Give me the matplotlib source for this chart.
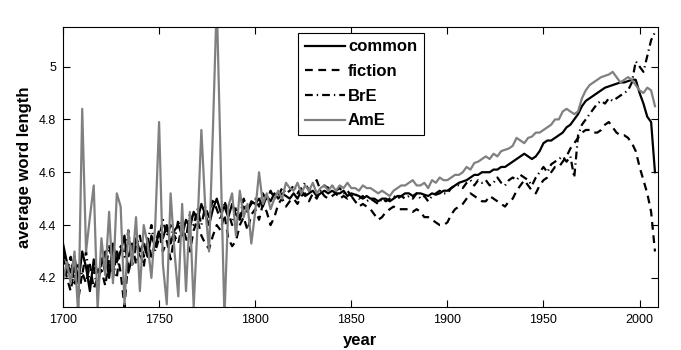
import numpy as np
import matplotlib
matplotlib.use("Agg")
import matplotlib.pyplot as plt

plt.rcParams['font.family'] = ['Liberation Sans', 'DejaVu Sans']

# yearly samples, every second year
years = np.arange(1700, 2010, 2)

common = [
    4.33, 4.26, 4.22, 4.28, 4.18, 4.30, 4.24, 4.15, 4.27, 4.22,   # 1700
    4.25, 4.30, 4.20, 4.33, 4.26, 4.30, 4.36, 4.22, 4.28, 4.35,   # 1720
    4.30, 4.33, 4.28, 4.36, 4.32, 4.37, 4.35, 4.40, 4.33, 4.38,   # 1740
    4.40, 4.36, 4.42, 4.39, 4.45, 4.42, 4.48, 4.44, 4.40, 4.46,   # 1760
    4.50, 4.45, 4.47, 4.43, 4.48, 4.44, 4.42, 4.47, 4.45, 4.49,   # 1780
    4.48, 4.50, 4.47, 4.51, 4.49, 4.52, 4.50, 4.52, 4.51, 4.50,   # 1800
    4.52, 4.50, 4.53, 4.51, 4.52, 4.53, 4.51, 4.52, 4.53, 4.52,   # 1820
    4.53, 4.52, 4.52, 4.53, 4.51, 4.52, 4.515, 4.51, 4.50, 4.51,  # 1840
    4.50, 4.50, 4.49, 4.50, 4.50, 4.49, 4.50, 4.51, 4.51, 4.52,   # 1860
    4.52, 4.51, 4.52, 4.52, 4.515, 4.51, 4.52, 4.515, 4.52, 4.53, # 1880
    4.53, 4.54, 4.55, 4.56, 4.565, 4.57, 4.58, 4.59, 4.59, 4.60,  # 1900
    4.60, 4.60, 4.61, 4.61, 4.62, 4.62, 4.63, 4.64, 4.65, 4.66,   # 1920
    4.67, 4.66, 4.65, 4.66, 4.68, 4.71, 4.72, 4.72, 4.73, 4.74,   # 1940
    4.75, 4.77, 4.78, 4.80, 4.82, 4.85, 4.87, 4.88, 4.89, 4.90,   # 1960
    4.91, 4.92, 4.925, 4.93, 4.935, 4.94, 4.94, 4.945, 4.95, 4.95, # 1980
    4.90, 4.86, 4.81, 4.79, 4.60,                                  # 2000
]

fiction = [
    4.28, 4.20, 4.15, 4.24, 4.12, 4.22, 4.18, 4.25, 4.16, 4.20,
    4.23, 4.17, 4.27, 4.20, 4.30, 4.22, 4.09, 4.28, 4.33, 4.25,
    4.30, 4.24, 4.35, 4.28, 4.33, 4.38, 4.30, 4.34, 4.27, 4.36,
    4.33, 4.40, 4.35, 4.30, 4.38, 4.42, 4.36, 4.33, 4.31, 4.36,
    4.40, 4.38, 4.44, 4.35, 4.32, 4.34, 4.40, 4.43, 4.38, 4.44,
    4.46, 4.42, 4.48, 4.45, 4.40, 4.43, 4.48, 4.50, 4.47, 4.49,
    4.50, 4.48, 4.51, 4.52, 4.49, 4.52, 4.50, 4.53, 4.51, 4.50,
    4.51, 4.52, 4.50, 4.51, 4.50, 4.51, 4.49, 4.47, 4.48, 4.47,
    4.46, 4.44, 4.42, 4.43, 4.45, 4.46, 4.47, 4.46, 4.46, 4.46,
    4.46, 4.45, 4.46, 4.45, 4.43, 4.43, 4.42, 4.41, 4.40, 4.40,
    4.41, 4.44, 4.46, 4.47, 4.48, 4.50, 4.52, 4.51, 4.50, 4.49,
    4.49, 4.51, 4.50, 4.49, 4.48, 4.47, 4.49, 4.50, 4.53, 4.55,
    4.57, 4.55, 4.53, 4.52, 4.55, 4.57, 4.58, 4.60, 4.62, 4.62,
    4.64, 4.66, 4.69, 4.71, 4.73, 4.75, 4.76, 4.76, 4.75, 4.75,
    4.76, 4.78, 4.79, 4.77, 4.75, 4.74, 4.74, 4.73, 4.71, 4.68,
    4.62, 4.57, 4.52, 4.45, 4.30,
]

bre = [
    4.30, 4.22, 4.28, 4.17, 4.25, 4.21, 4.30, 4.18, 4.24, 4.15,
    4.28, 4.22, 4.32, 4.25, 4.20, 4.33, 4.28, 4.38, 4.25, 4.32,
    4.36, 4.28, 4.34, 4.40, 4.30, 4.35, 4.42, 4.36, 4.40, 4.34,
    4.42, 4.38, 4.35, 4.44, 4.40, 4.46, 4.40, 4.47, 4.43, 4.50,
    4.46, 4.42, 4.49, 4.45, 4.40, 4.47, 4.43, 4.50, 4.46, 4.48,
    4.50, 4.47, 4.52, 4.49, 4.53, 4.50, 4.51, 4.54, 4.52, 4.53,
    4.55, 4.52, 4.54, 4.56, 4.53, 4.55, 4.57, 4.53, 4.55, 4.54,
    4.55, 4.53, 4.54, 4.52, 4.53, 4.51, 4.52, 4.50, 4.51, 4.49,
    4.50, 4.49, 4.48, 4.50, 4.49, 4.50, 4.51, 4.50, 4.51, 4.50,
    4.51, 4.50, 4.52, 4.50, 4.51, 4.49, 4.51, 4.52, 4.53, 4.52,
    4.52, 4.54, 4.55, 4.55, 4.54, 4.56, 4.57, 4.55, 4.57, 4.56,
    4.57, 4.55, 4.56, 4.58, 4.56, 4.55, 4.57, 4.58, 4.57, 4.59,
    4.58, 4.57, 4.55, 4.58, 4.60, 4.62, 4.60, 4.63, 4.64, 4.65,
    4.66, 4.64, 4.66, 4.58, 4.74, 4.78, 4.80, 4.82, 4.84, 4.86,
    4.87, 4.86, 4.88, 4.87, 4.88, 4.89, 4.90, 4.91, 4.94, 5.02,
    5.00, 4.98, 5.04, 5.10, 5.13,
]

ame = [
    4.19, 4.26, 4.18, 4.30, 4.05, 4.84, 4.30, 4.43, 4.55, 4.08,
    4.35, 4.21, 4.45, 4.18, 4.52, 4.47, 4.10, 4.38, 4.25, 4.43,
    4.15, 4.40, 4.33, 4.20, 4.40, 4.79, 4.25, 4.10, 4.52, 4.30,
    4.13, 4.48, 4.15, 4.45, 4.09, 4.40, 4.76, 4.47, 4.30, 4.76,
    5.25, 4.65, 4.05, 4.47, 4.52, 4.36, 4.53, 4.43, 4.48, 4.33,
    4.45, 4.60, 4.48, 4.52, 4.46, 4.50, 4.53, 4.50, 4.56, 4.54,
    4.53, 4.56, 4.52, 4.55, 4.53, 4.56, 4.52, 4.54, 4.55, 4.53,
    4.55, 4.53, 4.55, 4.54, 4.56, 4.54, 4.54, 4.53, 4.55, 4.54,
    4.54, 4.53, 4.52, 4.53, 4.52, 4.51, 4.53, 4.54, 4.55, 4.55,
    4.56, 4.57, 4.55, 4.55, 4.56, 4.54, 4.57, 4.56, 4.58, 4.57,
    4.57, 4.58, 4.59, 4.59, 4.60, 4.62, 4.61, 4.635, 4.64, 4.65,
    4.66, 4.65, 4.67, 4.66, 4.68, 4.685, 4.69, 4.70, 4.73, 4.72,
    4.71, 4.73, 4.735, 4.75, 4.75, 4.76, 4.77, 4.78, 4.80, 4.80,
    4.83, 4.84, 4.83, 4.82, 4.83, 4.88, 4.91, 4.93, 4.94, 4.95,
    4.96, 4.965, 4.97, 4.98, 4.96, 4.94, 4.95, 4.96, 4.95, 4.93,
    4.91, 4.90, 4.92, 4.91, 4.85,
]

xticks = [1700, 1750, 1800, 1850, 1900, 1950, 2000]
yticks = [4.2, 4.4, 4.6, 4.8, 5.0]
ytick_labels = ['4.2', '4.4', '4.6', '4.8', '5']

fig = plt.figure(figsize=(6.81, 3.5), dpi=100)
ax = fig.add_axes([0.0925, 0.123, 0.8735, 0.8])

lw = 1.6
ax.plot(years, common, color='black', lw=lw, label='common')
ax.plot(years, fiction, color='black', lw=lw, linestyle=(0, (3.5, 2.5)), label='fiction')
ax.plot(years, bre, color='black', lw=lw, linestyle=(0, (3.5, 1.8, 0.6, 1.8)), label='BrE')
ax.plot(years, ame, color='#808080', lw=lw, label='AmE')

ax.set_xlim(1700, 2009.5)
ax.set_ylim(4.09, 5.15)
ax.set_xticks(xticks)
ax.set_yticks(yticks)
ax.set_yticklabels(ytick_labels)
ax.tick_params(direction='in', top=True, right=True, length=5, width=0.8,
               labelsize=9, pad=5)
for s in ax.spines.values():
    s.set_linewidth(0.8)

ax.set_xlabel('year', fontsize=12, fontweight='bold', labelpad=5)
ax.set_ylabel('average word length', fontsize=12, fontweight='bold', labelpad=5)

leg = ax.legend(loc='upper left', bbox_to_anchor=(0.395, 0.979),
                prop={'weight': 'bold', 'size': 12}, frameon=True, fancybox=False,
                framealpha=1, edgecolor='black', handlelength=2.4,
                handletextpad=0.2, labelspacing=0.58, borderpad=0.4,
                borderaxespad=0)
leg.get_frame().set_linewidth(0.8)

fig.savefig('out.png', dpi=100)
